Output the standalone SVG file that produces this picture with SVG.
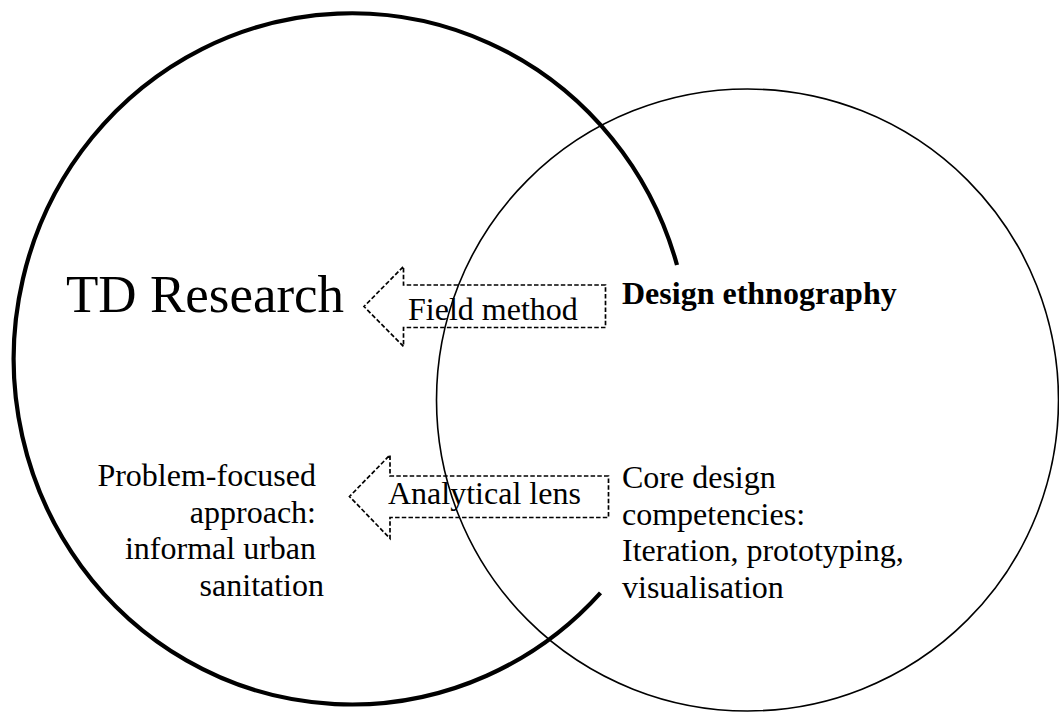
<svg xmlns="http://www.w3.org/2000/svg" width="1059" height="715" viewBox="0 0 1059 715">
  <style>
    .serif { font-family: "Liberation Serif", "Times New Roman", serif; fill: #000; }
    .label { font-size: 32px; }
    .title { font-size: 53px; }
    .bold { font-weight: bold; }
    .ring-thick { fill: none; stroke: #000; stroke-width: 4.2; }
    .ring-thin { fill: none; stroke: #000; stroke-width: 1.6; }
    .flow { fill: none; stroke: #000; stroke-width: 1.7; stroke-dasharray: 4.5 2.2; }
  </style>
  <rect width="1059" height="715" fill="#fff"/>

  <!-- Transdisciplinary research field: heavy open ring -->
  <g id="td-research">
    <path class="ring-thick" d="M 677 265 A 338 345.6 0 1 0 600.5 592.8"/>
    <text class="serif title" x="66" y="312">TD Research</text>
  </g>

  <!-- Design ethnography field: thin ring -->
  <g id="design-ethnography">
    <circle class="ring-thin" cx="747.5" cy="400" r="311"/>
    <text class="serif label bold" x="622" y="304.3">Design ethnography</text>
  </g>

  <g id="problem-focus">
    <text class="serif label" text-anchor="end">
      <tspan x="324" y="486">Problem-focused</tspan>
      <tspan x="324" y="522.5">approach:</tspan>
      <tspan x="324" y="559">informal urban</tspan>
      <tspan x="324" y="595.5">sanitation</tspan>
    </text>
  </g>

  <g id="design-competencies">
    <text class="serif label">
      <tspan x="622" y="488">Core design</tspan>
      <tspan x="622" y="524.5">competencies:</tspan>
      <tspan x="622" y="561">Iteration, prototyping,</tspan>
      <tspan x="622" y="597.5">visualisation</tspan>
    </text>
  </g>

  <!-- Dashed block arrows pointing from design ethnography to TD research -->
  <g id="connectors">
    <g id="field-method">
      <polygon class="flow" points="605.5,285 403.5,285 403.5,266.5 364,306.5 403.5,346.5 403.5,327.5 605.5,327.5"/>
      <text class="serif label" x="408" y="319.5">Field method</text>
    </g>
    <g id="analytical-lens">
      <polygon class="flow" points="608.5,476 390,476 390,455 349.5,496.5 390,538.5 390,517.5 608.5,517.5"/>
      <text class="serif label" x="388" y="503.5">Analytical lens</text>
    </g>
  </g>
</svg>
